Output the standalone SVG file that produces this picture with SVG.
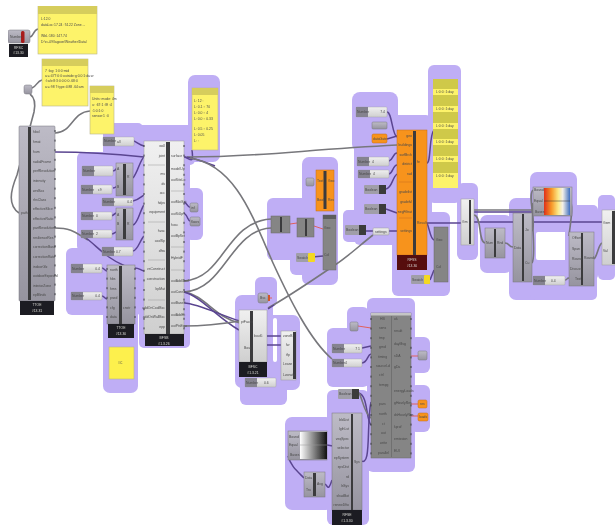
<svg xmlns="http://www.w3.org/2000/svg" width="615" height="525" viewBox="0 0 615 525">
<style>
text{font-family:"Liberation Sans",Arial,sans-serif;font-size:3.4px;fill:#4a4a4a}
.f{fill:#d8d8d8;text-anchor:middle;font-size:3.4px}
.e{text-anchor:end}
.h{fill:#bfaef5}
.n{fill:#fdf36b;stroke:#b9b48a;stroke-width:.6}
.nh{fill:#d6cd5c}
.b{fill:#3a3a3d}
.k{fill:#1f1f22}
.g{fill:url(#gg);stroke:#77757f;stroke-width:.5}
.d{fill:#858585;stroke:#6a6a6a;stroke-width:.5}
.l{fill:url(#lg);stroke:#9a9a9a;stroke-width:.5}
.o{fill:#f7931e;stroke:#c46c10;stroke-width:.5}
.sl{fill:#85838f}
.sr{fill:url(#lg);stroke:#a0a0a0;stroke-width:.4}
.p{stroke:#3d3d45;stroke-width:1;fill:none;stroke-dasharray:2 7.6}
.w{fill:none;stroke:#77777b;stroke-width:1.6}
.v{fill:none;stroke:#5a4590;stroke-width:1.5}
.x{fill:none;stroke:#e0605c;stroke-width:1}
</style>
<defs>
<linearGradient id="gg" x1="0" y1="0" x2="0" y2="1"><stop offset="0" stop-color="#bdbbc6"/><stop offset="1" stop-color="#96949f"/></linearGradient>
<linearGradient id="lg" x1="0" y1="0" x2="0" y2="1"><stop offset="0" stop-color="#f0f0f0"/><stop offset="1" stop-color="#cfcfcf"/></linearGradient>
<linearGradient id="heat" x1="0" y1="0" x2="1" y2="0"><stop offset="0" stop-color="#e0301a"/><stop offset=".3" stop-color="#f79a2a"/><stop offset=".55" stop-color="#fbe98a"/><stop offset=".72" stop-color="#f4f0e8"/><stop offset="1" stop-color="#3f6fc0"/></linearGradient>
<linearGradient id="bw" x1="0" y1="0" x2="1" y2="0"><stop offset="0" stop-color="#fff"/><stop offset="1" stop-color="#111"/></linearGradient>
<filter id="soft" x="0" y="0" width="1" height="1"><feGaussianBlur stdDeviation="0.5"/></filter>
</defs>
<rect width="615" height="525" fill="#fff"/>
<g filter="url(#soft)">
<g id="groups">
<rect class="h" x="77" y="152" width="65" height="100" rx="6"/>
<rect class="h" x="103" y="123" width="40" height="40" rx="5"/>
<rect class="h" x="115" y="125" width="80" height="40" rx="5"/>
<rect class="h" x="188" y="75" width="32" height="87" rx="7"/>
<rect class="h" x="139" y="135" width="51" height="213" rx="5"/>
<rect class="h" x="185" y="188" width="18" height="52" rx="6"/>
<rect class="h" x="66" y="248" width="76" height="67" rx="6"/>
<rect class="h" x="103" y="300" width="35" height="93" rx="7"/>
<rect class="h" x="267" y="198" width="48" height="62" rx="6"/>
<rect class="h" x="290" y="218" width="30" height="57" rx="6"/>
<rect class="h" x="302" y="157" width="36" height="128" rx="7"/>
<rect class="h" x="255" y="277" width="22" height="30" rx="6"/>
<rect class="h" x="235" y="295" width="38" height="93" rx="7"/>
<rect class="h" x="240" y="315" width="60" height="75" rx="7"/>
<rect class="h" x="240" y="370" width="47" height="35" rx="6"/>
<rect class="h" x="352" y="92" width="46" height="60" rx="8"/>
<rect class="h" x="354" y="135" width="50" height="110" rx="6"/>
<rect class="h" x="343" y="210" width="30" height="32" rx="5"/>
<rect class="h" x="392" y="115" width="40" height="181" rx="6"/>
<rect class="h" x="428" y="65" width="33" height="138" rx="6"/>
<rect class="h" x="405" y="212" width="45" height="84" rx="6"/>
<rect class="h" x="457" y="183" width="21" height="77" rx="6"/>
<rect class="h" x="480" y="215" width="32" height="58" rx="7"/>
<rect class="h" x="509" y="198" width="32" height="102" rx="7"/>
<rect class="h" x="530" y="172" width="47" height="44" rx="7"/>
<rect class="h" x="530" y="208" width="68" height="24" rx="4"/>
<rect class="h" x="530" y="260" width="67" height="40" rx="5"/>
<rect class="h" x="565" y="205" width="33" height="75" rx="5"/>
<rect class="h" x="598" y="195" width="17" height="85" rx="5"/>
<rect class="h" x="367" y="298" width="48" height="174" rx="6"/>
<rect class="h" x="410" y="337" width="20" height="36" rx="6"/>
<rect class="h" x="410" y="385" width="20" height="47" rx="6"/>
<rect class="h" x="347" y="307" width="22" height="28" rx="6"/>
<rect class="h" x="327" y="328" width="42" height="59" rx="6"/>
<rect class="h" x="327" y="390" width="42" height="135" rx="6"/>
<rect class="h" x="285" y="417" width="48" height="93" rx="7"/>
<rect fill="#fff" x="273" y="318" width="4" height="44" rx="2"/>
<rect fill="#fff" x="536" y="232" width="29" height="28" rx="2"/>
</g>
<g id="connectors">
<path class="w" d="M30 37C34 36 33 30 38 29"/>
<path class="w" d="M32 88C37 86 37 81 42 80"/>
<path class="w" d="M19 213C8 205 10 192 17 175L34 112C36 102 34 97 30 94"/>
<path class="w" d="M55 133C72 133 72 112 90 111"/>
<path class="v" d="M55 152C85 152 115 154 144 157"/>
<path class="w" d="M55 228C72 228 76 233 88 240"/>
<path class="v" d="M86 238C98 247 106 258 125 266"/>
<path class="v" d="M134 141C138 143 140 145 144 146"/>
<path class="v" d="M113 171C117 170 115 168 118 168"/>
<path class="v" d="M133 178C138 172 140 160 144 157"/>
<path class="v" d="M133 201C138 200 140 198 144 195"/>
<path class="v" d="M113 188C117 188 115 186 118 186"/>
<path class="v" d="M111 216C115 215 114 213 117 213"/>
<path class="v" d="M111 234C115 234 114 232 117 232"/>
<path class="v" d="M133 251C138 250 140 240 144 236"/>
<path class="v" d="M133 225C138 224 140 210 144 205"/>
<path class="v" d="M135 268C139 268 140 270 144 271"/>
<path class="v" d="M102 268C104 268 105 271 107 271"/>
<path class="v" d="M102 296C104 296 105 299 107 299"/>
<path class="v" d="M184 157C190 158 194 166 192 150"/>
<path class="v" d="M184 202C188 204 188 208 190 207"/>
<path class="v" d="M184 213C188 216 188 221 190 221"/>
<path class="w" d="M187 157C260 157 300 150 397 145"/>
<path class="v" d="M184 157C196 158 205 162 215 166"/>
<path class="w" d="M190 158C235 165 252 215 273 263C290 300 310 340 332 359"/>
<path class="w" d="M184 281C225 278 225 222 271 219"/>
<path class="w" d="M184 292C225 290 230 230 271 228"/>
<path class="w" d="M184 292C205 295 215 318 240 323"/>
<path class="v" d="M184 292C200 296 218 318 239 330"/>
<path class="v" d="M184 303C200 304 222 316 240 321"/>
<path class="w" d="M184 326C205 326 222 324 240 321"/>
<path class="w" d="M268 308C290 296 320 275 335 265C350 255 360 245 373 235"/>
<path class="v" d="M268 309L274 305"/>
<path class="x" d="M268 298L272 298"/>
<path class="x" d="M290 224L297 223"/>
<path class="x" d="M314 226L323 229"/>
<path class="v" d="M312 257L323 256"/>
<path class="v" d="M387 112C392 112 392 135 397 137"/>
<path class="v" d="M387 139L397 136"/>
<path class="v" d="M389 161C393 160 393 153 397 153"/>
<path class="v" d="M389 174C393 173 393 165 397 165"/>
<path class="v" d="M386 189C392 188 392 178 397 174"/>
<path class="v" d="M386 209L397 213"/>
<path class="v" d="M366 231L373 231"/>
<path class="v" d="M389 231L397 231"/>
<path class="v" d="M427 163C431 163 429 135 434 130"/>
<path class="v" d="M427 223C430 230 430 238 434 240"/>
<path class="v" d="M427 223H461"/>
<path class="v" d="M474 222H602"/>
<path class="v" d="M430 280L434 270"/>
<path class="w" d="M474 210H533"/>
<path class="v" d="M474 212H533"/>
<path class="w" d="M474 215C482 216 478 242 485 243"/>
<path class="w" d="M505 243C510 243 508 247 513 247"/>
<path class="w" d="M532 231C537 225 527 195 533 190"/>
<path class="w" d="M532 263C537 255 530 215 533 203"/>
<path class="w" d="M570 201C574 205 570 225 569 236"/>
<path class="w" d="M565 280C568 280 566 278 569 278"/>
<path class="w" d="M594 259C598 255 598 245 602 243"/>
<path class="v" d="M359 393C368 396 366 420 371 425"/>
<path class="w" d="M359 393C363 400 364 413 371 418"/>
<path class="v" d="M362 348L371 346"/>
<path class="v" d="M362 363C368 362 367 355 371 354"/>
<path class="v" d="M360 460C372 470 366 425 371 402"/>
<path class="x" d="M358 326L371 328"/>
<path class="x" d="M411 356H418"/>
<path class="x" d="M411 404H418"/>
<path class="x" d="M411 416H418"/>
<path class="v" d="M327 445L333 446"/>
<path class="v" d="M288 456C291 466 296 470 304 478"/>
<path class="v" d="M325 484C328 486 328 492 332 480"/>
</g>

<g id="slider-top"><rect class="g" x="8" y="30" width="22" height="13" rx="2"/><rect x="21" y="31" width="3.5" height="12" rx="1.5" fill="#a81a1a"/><text x="10" y="38">Number</text><rect class="k" x="9" y="44" width="19" height="13"/><text class="f" x="18.500" y="49">RFSC</text><text class="f" x="18.500" y="54">#13.30</text></g>
<g id="note-1"><rect class="n" x="38" y="6" width="59" height="48"/><rect class="nh" x="38" y="6" width="59" height="8"/><text x="41" y="20">L:12.0</text><text x="41" y="26">dataLoc:17.24 :74.22 Zone ...</text><text x="41" y="37">WbL:180 :147.74</text><text x="41" y="43">D:\rc-09\lagoon\Weather\Data\</text></g>
<g id="param-a"><rect class="g" x="24" y="85" width="8" height="9" rx="2"/></g>
<g id="note-2"><rect class="n" x="42" y="59" width="46" height="47"/><rect class="nh" x="42" y="59" width="46" height="7"/><text x="45" y="72">7 :log: 1:0:0:mid</text><text x="45" y="77">a:=:477:0:0:outside:g:0.0:1:da:w</text><text x="45" y="82">:l:a:b:8:3:0:0:0:0:.68:0</text><text x="45" y="88">a:=:98 7:type:4:88 .64:am</text></g>
<g id="note-3"><rect class="n" x="90" y="86" width="24" height="48"/><rect class="nh" x="90" y="86" width="24" height="7"/><text x="92" y="100">Units: mode: 4m</text><text x="92" y="106">u: :67:1 :8f :4</text><text x="92" y="112">:1:0:1:0</text><text x="92" y="117">sensor:1 :0</text></g>

<g id="comp-left"><rect class="g" x="19" y="126" width="36" height="175" rx="1"/><rect class="b" x="28" y="127" width="3" height="173"/>
<path class="p" d="M55 130V300"/><text x="33" y="133">hbol</text><text x="33" y="143">hmat</text><text x="33" y="153">hum</text><text x="33" y="163">radialFrame</text><text x="33" y="172">perfResolution</text><text x="33" y="182">intensity</text><text x="33" y="192">wrsBas</text><text x="33" y="201">rhsClass</text><text x="33" y="210">effectiveSlice</text><text x="33" y="220">effectiveRatio</text><text x="33" y="229">partResolution</text><text x="33" y="239">resilienceRes</text><text x="33" y="248">correctionBase</text><text x="33" y="258">correctionRate</text><text x="33" y="268">indoorGlz</text><text x="33" y="277">outdoorExposed</text><text x="33" y="287">interiorZone</text><text x="33" y="296">epBlinds</text><text x="21" y="214">path</text>
<rect class="k" x="20" y="301" width="34" height="14"/><text class="f" x="37" y="306">TTOE</text><text class="f" x="37" y="312">#13.31</text></g>

<g id="slider-1"><rect class="sr" x="103" y="137" width="31" height="9" rx="1"/><rect class="sl" x="103" y="137" width="12" height="9"/><text x="104" y="142">Number</text><text x="117" y="143">all</text></g>
<g id="slider-2"><rect class="sr" x="82" y="166" width="31" height="10" rx="1"/><rect class="sl" x="82" y="166" width="12" height="10"/><text x="83" y="172">Number</text></g>
<g id="comp-a"><rect class="g" x="116" y="163" width="17" height="33"/><rect class="b" x="123" y="164" width="3" height="31"/><text x="117" y="170">A</text><text x="117" y="188">B</text><text x="127" y="178">R</text></g>
<g id="slider-3"><rect class="sr" x="81" y="185" width="31" height="9" rx="1"/><rect class="sl" x="81" y="185" width="12" height="9"/><text x="82" y="191">Number</text><text x="98" y="191">c9</text></g>
<g id="slider-4"><rect class="sr" x="102" y="198" width="31" height="8" rx="1"/><rect class="sl" x="102" y="198" width="12" height="8"/><text x="103" y="203">Number</text><text class="e" x="132" y="203">0.4</text></g>
<g id="slider-5"><rect class="sr" x="81" y="212" width="31" height="8" rx="1"/><rect class="sl" x="81" y="212" width="12" height="8"/><text x="82" y="217">Number</text><text x="96" y="217">0</text></g>
<g id="comp-b"><rect class="g" x="116" y="208" width="17" height="32"/><rect class="b" x="123" y="209" width="3" height="30"/><text x="117" y="216">A</text><text x="117" y="225">B</text><text x="127" y="225">R</text></g>
<g id="slider-6"><rect class="sr" x="81" y="230" width="31" height="8" rx="1"/><rect class="sl" x="81" y="230" width="12" height="8"/><text x="82" y="235">Number</text><text x="96" y="235">2</text></g>
<g id="slider-7"><rect class="sr" x="102" y="247" width="31" height="9" rx="1"/><rect class="sl" x="102" y="247" width="12" height="9"/><text x="103" y="253">Number</text><text x="116" y="253">0.7</text></g>
<g id="slider-8"><rect class="sr" x="71" y="264" width="31" height="9" rx="1"/><rect class="sl" x="71" y="264" width="12" height="9"/><text x="72" y="270">Number</text><text class="e" x="100" y="270">0.4</text></g>
<g id="slider-9"><rect class="sr" x="71" y="292" width="31" height="8" rx="1"/><rect class="sl" x="71" y="292" width="12" height="8"/><text x="72" y="297">Number</text><text class="e" x="100" y="297">0.4</text></g>
<g id="comp-c"><rect class="g" x="107" y="265" width="28" height="59"/><rect class="b" x="119" y="266" width="3" height="58"/><text x="110" y="271">north</text><text x="110" y="280">hbs</text><text x="110" y="290">hms</text><text x="110" y="299">psed</text><text x="110" y="309">cfg</text><text x="110" y="318">data</text><text x="123" y="309">cnstr</text><path class="p" d="M107 268V322"/><path class="p" d="M135 268V322"/><rect class="k" x="108" y="324" width="26" height="14"/><text class="f" x="121" y="329">TTOE</text><text class="f" x="121" y="335">#13.30</text></g>
<g id="note-4"><rect x="109" y="347" width="25" height="32" fill="#fdf04e" stroke="#b9b48a" stroke-width=".6"/><text x="118" y="364">#C</text></g>

<g id="comp-main"><rect class="l" x="144" y="141" width="40" height="193"/><rect class="b" x="166" y="142" width="4" height="192"/>
<path class="p" d="M144 145V330"/><path class="p" d="M184 145V330"/>
<path stroke="#999" stroke-width=".5" d="M148 165H165M148 222H165M148 260H165M148 300H165M171 191H184M171 247H184M171 270H184"/>
<text class="e" x="165" y="147">wall</text><text class="e" x="165" y="157">joint</text><text class="e" x="165" y="175">ms</text><text class="e" x="165" y="185">ds</text><text class="e" x="165" y="194">occ</text><text class="e" x="165" y="204">hdps</text><text class="e" x="165" y="213">equipment</text><text class="e" x="165" y="232">hvac</text><text class="e" x="165" y="242">coolSp</text><text class="e" x="165" y="252">dhw</text><text class="e" x="165" y="270">vsConstruct</text><text class="e" x="165" y="280">construction</text><text class="e" x="165" y="290">bpMat</text><text class="e" x="165" y="309">addOnCoolBsc</text><text class="e" x="165" y="318">addOnWallBsc</text><text class="e" x="165" y="328">epp</text>
<text x="171" y="157">surface</text><text x="171" y="170">modelUp</text><text x="171" y="181">outSiteLo</text><text x="171" y="203">outMatSet</text><text x="171" y="215">outSiUp</text><text x="171" y="226">hvac</text><text x="171" y="237">outBpSet</text><text x="171" y="259">HybridF</text><text x="171" y="282">outAddCool</text><text x="171" y="293">outConstr</text><text x="171" y="304">outBaseF</text><text x="171" y="316">outAddHt</text><text x="171" y="327">outPtsEqu</text>
<rect class="k" x="145" y="334" width="39" height="12"/><text class="f" x="164" y="339">BFSB</text><text class="f" x="164" y="345">#1.3.26</text></g>
<g id="param-b"><rect class="g" x="190" y="203" width="8" height="9" rx="1.500"/><text x="191" y="209">inf</text></g>
<g id="param-c"><rect class="g" x="190" y="217" width="10" height="9" rx="1.500"/><text x="191" y="223">floors</text></g>
<g id="note-5"><rect class="n" x="192" y="88" width="26" height="62"/><rect class="nh" x="192" y="88" width="26" height="7"/><text x="194" y="102">L: 12 :</text><text x="194" y="108">L: 0.1 :: 70</text><text x="194" y="114">L: 0.0 :: 4</text><text x="194" y="120">L: 0.0 :: 0.33</text><text x="194" y="130">L: 0.5 :: 0.25</text><text x="194" y="136">L: 0.05</text><text x="194" y="142">L: :</text></g>

<g id="param-d"><rect class="g" x="306" y="178" width="8" height="8" rx="1.500"/></g>
<g id="comp-orange-a"><rect class="o" x="316" y="170" width="18" height="41"/><rect class="b" x="323.500" y="171" width="3" height="38"/><text x="317" y="182">Text</text><text x="328" y="182">Geo</text><text x="317" y="201">Bool</text><text x="328" y="201">Res</text></g>
<g id="comp-d"><rect class="d" x="271" y="216" width="19" height="17"/><rect class="b" x="280" y="217" width="2" height="15"/></g>
<g id="comp-e"><rect class="d" x="297" y="218" width="17" height="19"/><rect class="b" x="305" y="219" width="2" height="17"/></g>
<g id="comp-f"><rect class="d" x="323" y="215" width="13" height="55"/><rect x="323" y="215" width="13" height="4" fill="#5c5c5c"/><text x="324" y="229">Geo</text><text x="324" y="256">Col</text></g>
<g id="slider-10"><rect fill="#a09ea8" x="296" y="253" width="16" height="9" rx="1"/><rect x="308" y="253" width="7" height="9" rx="1" fill="#f3d820"/><text x="297" y="259">Swatch</text></g>

<g id="param-e"><rect class="g" x="258" y="293" width="10" height="10" rx="2"/><rect x="268" y="295" width="2" height="6" fill="#d2552a"/><text x="260" y="299">Bsc</text></g>
<g id="comp-g"><rect class="l" x="239" y="310" width="28" height="52"/><rect class="b" x="250" y="311" width="3" height="51"/><text x="241" y="323">ptFaces</text><text x="244" y="349">Bout</text><text x="254" y="337">bout5</text><rect class="k" x="239" y="362" width="28" height="15"/><text class="f" x="253" y="368">BFSC</text><text class="f" x="253" y="374">#1.3.21</text></g>
<path id="wires-g" class="v" d="M267 336H281M267 345H281"/>
<g id="comp-h"><rect class="l" x="281" y="331" width="15" height="49"/><rect class="b" x="293" y="332" width="3" height="47"/><text x="283" y="337">zoneB</text><text x="286" y="346">fw</text><text x="286" y="356">tfp</text><text x="283" y="365">Lease</text><text x="283" y="376">Lzonate</text></g>
<g id="slider-11"><rect class="sr" x="245" y="378" width="31" height="9" rx="1"/><rect class="sl" x="245" y="378" width="12" height="9"/><text x="246" y="384">Number</text><text x="264" y="384">0.6</text></g>

<g id="param-f"><rect class="g" x="350" y="322" width="8" height="9" rx="1.500"/></g>
<g id="slider-12"><rect class="sr" x="332" y="344" width="30" height="9" rx="1"/><rect class="sl" x="332" y="344" width="12" height="9"/><text x="333" y="350">Number</text><text class="e" x="360" y="350">7 1</text></g>
<g id="slider-13"><rect class="sr" x="332" y="359" width="30" height="8" rx="1"/><rect class="sl" x="332" y="359" width="12" height="8"/><text x="333" y="364">Number</text><text x="345" y="364">4</text></g>
<g id="toggle-1"><rect fill="#a09ea8" x="338" y="389" width="21" height="10" rx="1"/><rect x="352" y="389" width="7" height="10" fill="#3a3a3a"/><text x="339" y="395">Boolean</text></g>
<g id="comp-big"><rect class="d" x="371" y="313" width="40" height="145"/><rect x="371" y="313" width="40" height="2.500" fill="#c5c5c5"/><rect x="391" y="316" width="1" height="141" fill="#707070"/>
<path class="p" d="M371 318V455"/><path class="p" d="M411 318V455"/>
<text x="380" y="320">HB</text><text x="379" y="329">sens</text><text x="379" y="339">tmp</text><text x="379" y="348">grnd</text><text x="378" y="358">timing</text><text x="376" y="367">sourceLd</text><text x="379" y="376">ctrl</text><text x="379" y="386">tempg</text><text x="379" y="405">pars</text><text x="379" y="415">north</text><text x="382" y="425">ct</text><text x="381" y="434">out</text><text x="380" y="444">write</text><text x="378" y="454">parallel</text>
<text x="394" y="320">ok</text><text x="394" y="332">result</text><text x="394" y="345">dayMsg</text><text x="394" y="357">sDA</text><text x="394" y="368">gDa</text><text x="394" y="392">energyLoads</text><text x="394" y="404">gHourlyRes</text><text x="394" y="416">dsHourlyRes</text><text x="394" y="428">kprof</text><text x="394" y="440">emission</text><text x="394" y="452">EUI</text></g>
<g id="param-g"><rect class="g" x="418" y="351" width="9" height="9" rx="1.500"/></g>
<g id="param-h"><rect class="o" x="418" y="400" width="9" height="8" rx="1.500"/><text x="420" y="405">res</text></g>
<g id="param-i"><rect class="o" x="418" y="413" width="10" height="8" rx="1.500"/><text x="419" y="418">loads</text></g>
<g id="comp-i"><rect class="g" x="332" y="413" width="30" height="97"/><rect class="b" x="351" y="414" width="2" height="96"/><text class="e" x="349" y="421">bldList</text><text class="e" x="349" y="430">lgthLst</text><text class="e" x="349" y="440">veqSpec</text><text class="e" x="349" y="449">selector</text><text class="e" x="349" y="459">epSystem</text><text class="e" x="349" y="468">epsDist</text><text class="e" x="349" y="478">rd</text><text class="e" x="349" y="487">lsSys</text><text class="e" x="349" y="497">shadBot</text><text class="e" x="349" y="506">renewDfto</text><text x="354" y="463">Sys</text><rect class="k" x="332" y="510" width="30" height="15"/><text class="f" x="347" y="516">RFSE</text><text class="f" x="347" y="522">#1.3.30</text></g>
<g id="gradient-bw"><rect class="g" x="288" y="431" width="39" height="29"/><rect x="300" y="432" width="27" height="27" fill="url(#bw)"/><text x="289" y="438">Bound</text><text x="289" y="446">Equal</text><text x="290" y="456">Bases</text><path d="M300 445H327" stroke="#999" stroke-width=".5"/></g>
<g id="comp-j"><rect class="g" x="304" y="472" width="21" height="25"/><rect class="b" x="313" y="473" width="3" height="23"/><text x="305" y="479">Data</text><text x="306" y="491">Tru</text><text x="317" y="485">Avg</text></g>

<g id="slider-14"><rect class="sr" x="356" y="107" width="31" height="10" rx="1"/><rect class="sl" x="356" y="107" width="12" height="10"/><text x="357" y="113">Number</text><text class="e" x="385" y="113">7.4</text></g>
<g id="param-j"><rect class="g" x="372" y="122" width="15" height="7" rx="1"/></g>
<g id="param-k"><rect class="o" x="372" y="134" width="15" height="9" rx="1.500"/><text x="373" y="140">dataGate</text></g>
<g id="slider-15"><rect class="sr" x="357" y="157" width="32" height="9" rx="1"/><rect class="sl" x="357" y="157" width="12" height="9"/><text x="358" y="163">Number</text><text x="372" y="163">4</text></g>
<g id="slider-16"><rect class="sr" x="358" y="170" width="31" height="8" rx="1"/><rect class="sl" x="358" y="170" width="12" height="8"/><text x="359" y="175">Number</text><text x="373" y="175">4</text></g>
<g id="toggle-2"><rect fill="#a09ea8" x="364" y="185" width="22" height="9" rx="1"/><rect x="379" y="185" width="7" height="9" fill="#3a3a3a"/><text x="365" y="191">Boolean</text></g>
<g id="toggle-3"><rect fill="#a09ea8" x="364" y="204" width="22" height="10" rx="1"/><rect x="379" y="204" width="7" height="10" fill="#3a3a3a"/><text x="365" y="210">Boolean</text></g>
<g id="toggle-4"><rect fill="#a09ea8" x="345" y="225" width="21" height="10" rx="1"/><rect x="359" y="225" width="7" height="10" fill="#3a3a3a"/><text x="346" y="231">Boolean</text></g>
<g id="param-l"><rect class="l" x="373" y="228" width="16" height="7" rx="1"/><text x="375" y="233">settings</text></g>
<g id="comp-orange"><rect class="o" x="397" y="130" width="30" height="125"/><rect class="b" x="413" y="131" width="3" height="124"/><path stroke="#c46c10" stroke-width=".5" d="M399 182H412M399 218H412"/>
<text class="e" x="412" y="137">geo</text><text class="e" x="412" y="146">buildings</text><text class="e" x="412" y="156">surfBrch</text><text class="e" x="412" y="165">district</text><text class="e" x="412" y="175">rad</text><text class="e" x="412" y="193">gradelist</text><text class="e" x="412" y="203">gradelvl</text><text class="e" x="412" y="213">negFiltrat</text><text class="e" x="412" y="232">settings</text><text x="417" y="163">fe</text><text x="417" y="224">Result</text>
<rect x="397" y="255" width="30" height="15" fill="#560e0c"/><text class="f" x="412" y="261">RFSS</text><text class="f" x="412" y="267">#13.30</text></g>
<g id="comp-k"><rect class="d" x="434" y="227" width="14" height="55"/><text x="436" y="241">Geo</text><text x="436" y="268">Col</text></g>
<g id="slider-17"><rect fill="#a09ea8" x="411" y="275" width="19" height="9" rx="1"/><rect x="424" y="275" width="6" height="9" rx="1" fill="#f3d820"/><text x="412" y="281">Swatch</text></g>
<g id="note-stack"><rect x="433" y="79" width="25" height="109" fill="#cfc94a"/><rect x="433" y="89" width="25" height="6" fill="#fdf36b"/><rect x="433" y="106" width="25" height="6" fill="#fdf36b"/><rect x="433" y="123" width="25" height="6" fill="#fdf36b"/><rect x="433" y="139" width="25" height="6" fill="#fdf36b"/><rect x="433" y="156" width="25" height="6" fill="#fdf36b"/><rect x="433" y="173" width="25" height="15" fill="#fdf36b"/><text x="436" y="93">L:0:0 :1:day</text><text x="436" y="110">L:0:0 :1:day</text><text x="436" y="127">L:0:0 :1:day</text><text x="436" y="143">L:0:0 :1:day</text><text x="436" y="160">L:0:0 :1:day</text><text x="436" y="177">L:0:0 :1:day</text></g>

<g id="comp-l"><rect class="l" x="461" y="199" width="13" height="46"/><rect class="b" x="469" y="200" width="2" height="44"/><text x="462" y="223">Gm</text></g>
<g id="comp-m"><rect class="g" x="485" y="228" width="20" height="30"/><rect class="b" x="494" y="229" width="2" height="28"/><text x="486" y="244">Num</text><text x="497" y="244">Rnd</text></g>
<g id="comp-n"><rect class="g" x="513" y="213" width="19" height="69"/><rect class="b" x="522" y="214" width="2" height="67"/><text x="514" y="249">Data</text><text x="525" y="231">Jo</text><text x="525" y="264">Cu</text></g>
<g id="gradient-heat"><rect class="g" x="533" y="187" width="39" height="29"/><rect x="544" y="188" width="26" height="27" fill="url(#heat)"/><text x="534" y="191">Bound</text><text x="534" y="202">Equal</text><text x="535" y="213">Bases</text><path d="M544 201H570" stroke="#333" stroke-width=".5"/></g>
<g id="comp-o"><rect class="g" x="569" y="232" width="25" height="54"/><rect class="b" x="581" y="233" width="2" height="52"/><text x="572" y="239">Offset</text><text x="572" y="250">Span</text><text x="572" y="260">Round</text><text x="570" y="270">Discuss</text><text x="575" y="280">Text</text><text x="584" y="259">Round</text></g>
<g id="slider-18"><rect class="sr" x="533" y="276" width="32" height="9" rx="1"/><rect class="sl" x="533" y="276" width="12" height="9"/><text x="534" y="282">Number</text><text x="551" y="282">0.4</text></g>
<g id="comp-p"><rect class="l" x="602" y="210" width="13" height="55"/><rect class="b" x="612" y="211" width="3" height="53"/><text x="603" y="224">Gem</text><text x="603" y="252">Val</text></g>
</g>
</svg>
